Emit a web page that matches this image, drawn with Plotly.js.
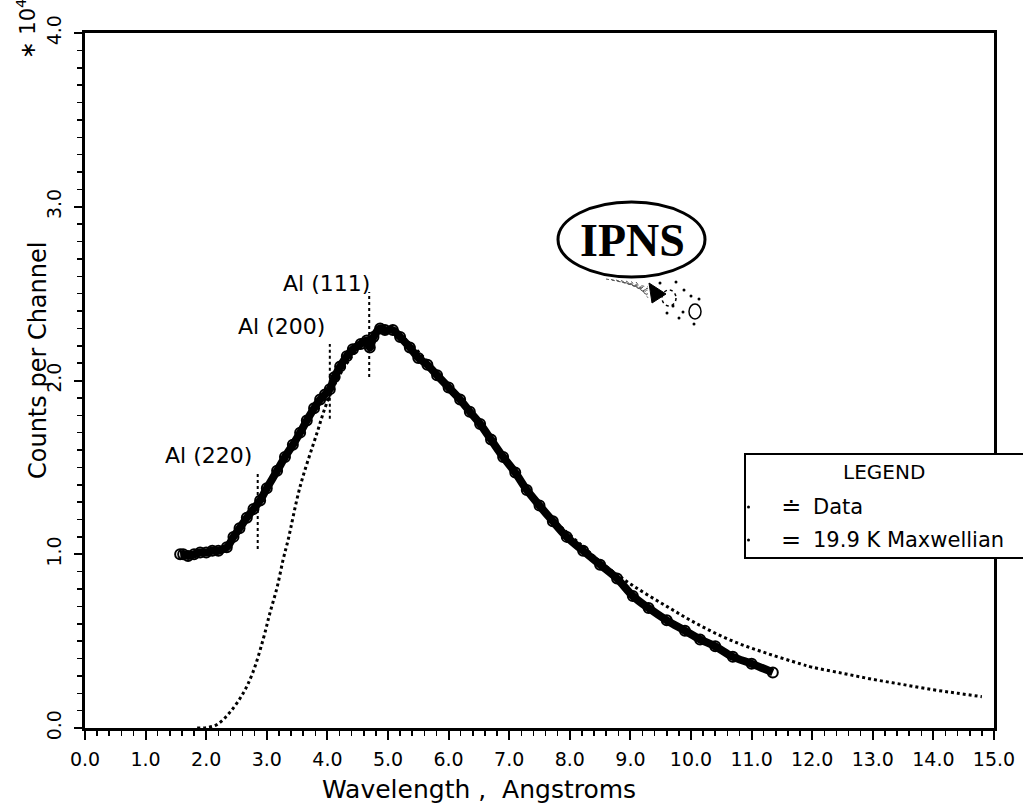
<!DOCTYPE html>
<html>
<head>
<meta charset="utf-8">
<script src="https://cdn.plot.ly/plotly-3.0.1.min.js"></script>
<style>html,body{margin:0;padding:0;background:#fff;}#chart{width:1023px;height:806px;}</style>
</head>
<body>
<div id="chart"></div>
<script>
// ---- Data (counts in units of 10^4) ----
var dataX = [1.57,1.62,1.70,1.80,1.90,2.00,2.10,2.20,2.34,2.45,2.55,2.67,2.78,2.89,3.00,3.17,3.30,3.43,3.55,3.66,3.78,3.88,3.96,4.04,4.12,4.21,4.32,4.42,4.55,4.65,4.70,4.76,4.87,4.95,5.08,5.20,5.36,5.50,5.65,5.81,6.00,6.19,6.35,6.52,6.70,6.90,7.10,7.29,7.50,7.72,7.95,8.22,8.50,8.78,9.04,9.30,9.60,9.90,10.15,10.40,10.69,11.00,11.35];
var dataY = [1.00,1.00,0.99,1.00,1.01,1.01,1.02,1.02,1.04,1.10,1.15,1.21,1.26,1.31,1.38,1.48,1.56,1.63,1.70,1.77,1.84,1.89,1.92,1.95,2.02,2.08,2.14,2.18,2.21,2.23,2.19,2.25,2.30,2.29,2.29,2.25,2.19,2.13,2.09,2.03,1.96,1.89,1.82,1.75,1.66,1.56,1.47,1.37,1.28,1.19,1.10,1.02,0.94,0.86,0.76,0.69,0.62,0.56,0.51,0.47,0.41,0.37,0.32];

var maxwX = [1.85,2.00,2.18,2.39,2.61,2.77,2.94,3.05,3.17,3.27,3.35,3.55,3.83,3.99,4.20,4.50,4.80,5.10,5.40,5.80,6.20,6.50,6.90,7.30,7.70,8.20,8.60,9.04,9.60,10.15,10.69,11.25,11.80,12.00,12.50,13.00,13.50,14.00,14.40,14.80];
var maxwY = [0.00,0.002,0.02,0.09,0.20,0.32,0.51,0.66,0.81,0.97,1.08,1.39,1.70,1.87,2.03,2.18,2.26,2.28,2.20,2.05,1.89,1.76,1.57,1.38,1.21,1.05,0.93,0.82,0.70,0.59,0.50,0.43,0.37,0.35,0.315,0.28,0.25,0.22,0.20,0.18];

// Bragg edge markers
var braggLabels = ['Al (220)','Al (200)','Al (111)'];
var braggX      = [2.85, 4.04, 4.69];
var braggLow    = [1.03, 1.78, 2.02];
var braggHigh   = [1.47, 2.21, 2.51];
var braggTextX  = [2.03, 3.25, 3.98];
var braggTextY  = [1.57, 2.31, 2.56];

// Tick labels
var xTickVals = [0,1,2,3,4,5,6,7,8,9,10,11,12,13,14,15];
var xTickText = ['0.0','1.0','2.0','3.0','4.0','5.0','6.0','7.0','8.0','9.0','10.0','11.0','12.0','13.0','14.0','15.0'];
var yTickVals = [0,1,2,3,4];
var yTickText = ['0.0','1.0','2.0','3.0','4.0'];

// Legend entries
var legendSymbols = ['\u2250','='];
var legendNames   = ['Data','19.9 K Maxwellian'];

var FONT = 'DejaVu Sans, sans-serif';

var traces = [
  {x: maxwX, y: maxwY, type:'scatter', mode:'lines', showlegend:false,
   line:{color:'#000', width:3, dash:'dot', shape:'spline'}},
  {x: dataX, y: dataY, type:'scatter', mode:'lines+markers', showlegend:false,
   line:{color:'#000', width:8, shape:'spline'},
   marker:{symbol:'circle-open', size:10, color:'#000', line:{width:2, color:'#000'}}}
];

// plot-area pixel geometry for decorations
var L = 85, R = 994, T = 33, B = 728;
function px2x(px){ return (px - L) / (R - L) * 15; }
function py2y(py){ return (B - py) / (B - T) * 4; }
function pxp(px){ return (px - L) / (R - L); }
function pyp(py){ return (B - py) / (B - T); }

var shapes = [];
var annotations = [];

// Bragg lines and labels
for (var i = 0; i < braggLabels.length; i++) {
  shapes.push({type:'line', xref:'x', yref:'y', x0:braggX[i], x1:braggX[i], y0:braggLow[i], y1:braggHigh[i],
               line:{color:'#000', width:2, dash:'dot'}});
  annotations.push({xref:'x', yref:'y', x:braggTextX[i], y:braggTextY[i], text:braggLabels[i], showarrow:false,
               font:{family:FONT, size:22, color:'#000'}, xanchor:'center', yanchor:'middle'});
}

// IPNS logo (decoration)
shapes.push({type:'circle', xref:'x', yref:'y', x0:px2x(558), x1:px2x(705), y0:py2y(277), y1:py2y(202),
             line:{color:'#000', width:3}, fillcolor:'rgba(0,0,0,0)'});
annotations.push({xref:'x', yref:'y', x:px2x(632), y:py2y(240), text:'<b>IPNS</b>', showarrow:false,
             font:{family:'Liberation Serif, serif', size:46, color:'#000'}});
for (var k = 0; k < 7; k++) {
  shapes.push({type:'line', xref:'x', yref:'y', x0:px2x(606 + k*5), y0:py2y(279 + k*0.5), x1:px2x(648), y1:py2y(287 + k*1.8),
               line:{color:'#555', width:1, dash:'dot'}});
}
shapes.push({type:'path', xref:'x', yref:'y',
             path:'M'+px2x(649)+','+py2y(283)+' L'+px2x(652)+','+py2y(303)+' L'+px2x(666)+','+py2y(294)+' Z',
             fillcolor:'#000', line:{color:'#000', width:1}});
shapes.push({type:'circle', xref:'x', yref:'y', x0:px2x(662), x1:px2x(676), y0:py2y(306), y1:py2y(290),
             line:{color:'#000', width:1.5, dash:'dot'}});
shapes.push({type:'circle', xref:'x', yref:'y', x0:px2x(689), x1:px2x(701), y0:py2y(319), y1:py2y(304),
             line:{color:'#000', width:1.5}});
var dotsPx = [[660,283],[676,282],[684,290],[667,313],[679,318],[691,296],[699,299],[673,306],[683,312],[694,324]];
for (var d = 0; d < dotsPx.length; d++) {
  shapes.push({type:'circle', xref:'x', yref:'y', x0:px2x(dotsPx[d][0]-1.5), x1:px2x(dotsPx[d][0]+1.5),
               y0:py2y(dotsPx[d][1]+1.5), y1:py2y(dotsPx[d][1]-1.5), fillcolor:'#000', line:{color:'#000', width:0}});
}

// Legend box (custom)
shapes.push({type:'rect', xref:'paper', yref:'paper', x0:pxp(745), x1:pxp(1040), y0:pyp(558), y1:pyp(454),
             fillcolor:'#fff', line:{color:'#000', width:2}, layer:'above'});
annotations.push({xref:'paper', yref:'paper', x:pxp(884), y:pyp(472), text:'LEGEND', showarrow:false,
             font:{family:FONT, size:20, color:'#000'}, xanchor:'center', yanchor:'middle'});
var rowY = [507, 540];
for (var j = 0; j < legendNames.length; j++) {
  shapes.push({type:'circle', xref:'paper', yref:'paper', x0:pxp(747), x1:pxp(750), y0:pyp(rowY[j]+1.5), y1:pyp(rowY[j]-1.5),
               fillcolor:'#000', line:{width:0}, layer:'above'});
  annotations.push({xref:'paper', yref:'paper', x:pxp(791), y:pyp(rowY[j]), text:legendSymbols[j], showarrow:false,
             font:{family:FONT, size:24, color:'#000'}, xanchor:'center', yanchor:'middle'});
  annotations.push({xref:'paper', yref:'paper', x:pxp(811), y:pyp(rowY[j]), text:legendNames[j], showarrow:false,
             font:{family:FONT, size:21, color:'#000'}, xanchor:'left', yanchor:'middle'});
}

// Axis titles and multiplier
annotations.push({xref:'paper', yref:'paper', x:pxp(479), y:pyp(789), text:'Wavelength ,  Angstroms', showarrow:false,
             font:{family:FONT, size:25, color:'#000'}, xanchor:'center', yanchor:'middle'});
annotations.push({xref:'paper', yref:'paper', x:pxp(38), y:pyp(361), text:'Counts per Channel', showarrow:false,
             textangle:-90, font:{family:FONT, size:24, color:'#000'}, xanchor:'center', yanchor:'middle'});
annotations.push({xref:'paper', yref:'paper', x:pxp(26), y:pyp(29), text:'\u2217 10<sup>4</sup>', showarrow:false,
             textangle:-90, font:{family:FONT, size:21, color:'#000'}, xanchor:'center', yanchor:'middle'});

var layout = {
  width:1023, height:806,
  margin:{l:85, r:29, t:33, b:78},
  paper_bgcolor:'#fff', plot_bgcolor:'#fff',
  font:{family:FONT, color:'#000'},
  showlegend:false,
  xaxis:{range:[0,15], tickmode:'array', tickvals:xTickVals, ticktext:xTickText,
         ticks:'outside', ticklen:9, tickwidth:2, tickcolor:'#000',
         minor:{dtick:0.2, ticks:'outside', ticklen:5, tickwidth:1.5, tickcolor:'#000', showgrid:false},
         showline:true, linewidth:3, linecolor:'#000', mirror:true,
         showgrid:false, zeroline:false, tickfont:{family:FONT, size:19, color:'#000'},
         ticklabelstandoff:3},
  yaxis:{range:[0,4], tickmode:'array', tickvals:yTickVals, ticktext:yTickText, tickangle:-90,
         ticks:'outside', ticklen:8, tickwidth:2, tickcolor:'#000',
         minor:{dtick:0.1, ticks:'outside', ticklen:5, tickwidth:1.5, tickcolor:'#000', showgrid:false},
         showline:true, linewidth:3, linecolor:'#000', mirror:true,
         showgrid:false, zeroline:false, tickfont:{family:FONT, size:19, color:'#000'},
         ticklabelstandoff:5},
  shapes:shapes,
  annotations:annotations
};

Plotly.newPlot('chart', traces, layout, {displayModeBar:false, staticPlot:true});
</script>
</body>
</html>
